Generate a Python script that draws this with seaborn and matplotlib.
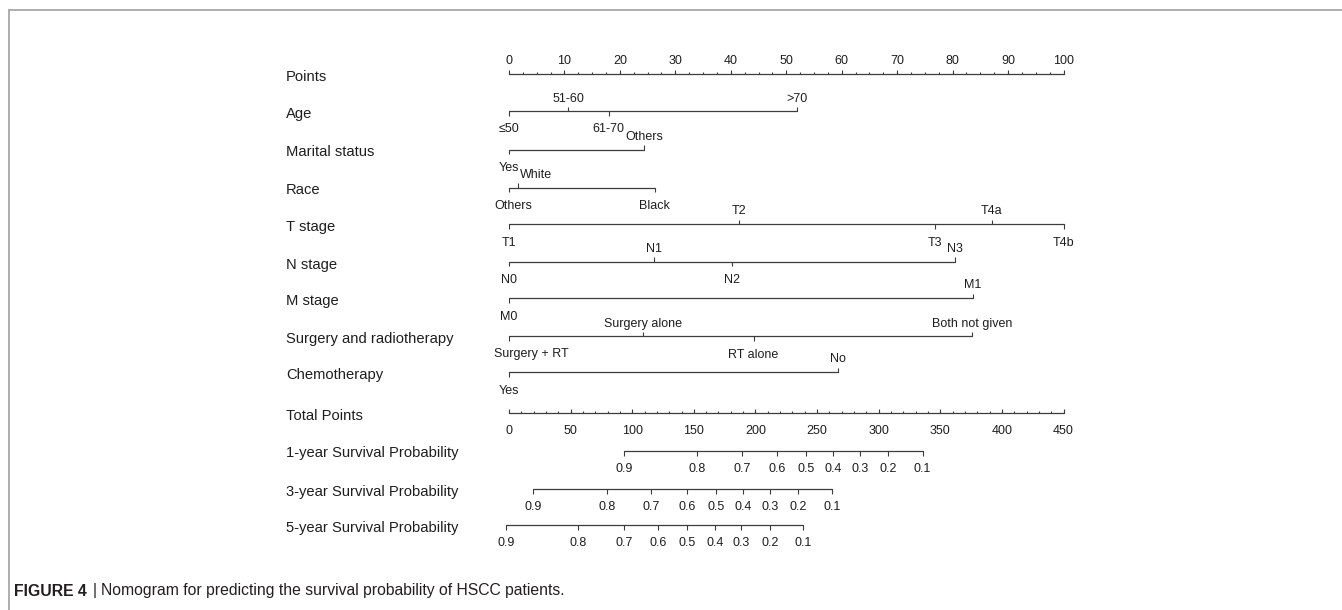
import numpy as np
import pandas as pd
import matplotlib.pyplot as plt
import seaborn as sns

# Row labels (left column)
row_names = ["Points", "Age", "Marital status", "Race", "T stage", "N stage",
             "M stage", "Surgery and radiotherapy", "Chemotherapy", "Total Points",
             "1-year Survival Probability", "3-year Survival Probability",
             "5-year Survival Probability"]

# Points (0-100 scale) of each level
age_levels = ["≤50", "51-60", "61-70", ">70"]
age_points = [0, 10.7, 18.0, 51.9]
marital_levels = ["Yes", "Others"]
marital_points = [0, 24.4]
race_levels = ["Others", "White", "Black"]
race_points = [0, 1.7, 26.3]
t_levels = ["T1", "T2", "T3", "T4a", "T4b"]
t_points = [0, 41.5, 76.8, 87.1, 100]
n_levels = ["N0", "N1", "N2", "N3"]
n_points = [0, 26.2, 40.3, 80.4]
m_levels = ["M0", "M1"]
m_points = [0, 83.6]
surg_levels = ["Surgery + RT", "Surgery alone", "RT alone", "Both not given"]
surg_points = [0, 24.1, 44.1, 83.5]
chemo_levels = ["Yes", "No"]
chemo_points = [0, 59.4]

# Total points at which each survival probability is reached
surv_probs = ["0.9", "0.8", "0.7", "0.6", "0.5", "0.4", "0.3", "0.2", "0.1"]
surv1_total = [93.6, 152.5, 189.0, 217.5, 241.0, 262.8, 284.8, 307.4, 335.6]
surv3_total = [19.8, 79.3, 115.6, 144.4, 168.0, 190.0, 211.7, 234.6, 262.2]
surv5_total = [-2.5, 56.4, 93.3, 121.2, 144.7, 167.3, 188.1, 211.7, 238.9]
total_max = 450

# ---- layout (pixel based) ----
x0_px = 509.0
px_per_pt = (1063.5 - 509.0) / 100
row_y = [74, 111, 149.5, 187.5, 224, 261.5, 298, 336, 372, 413, 450.5, 489, 525]

def px(x):
    return (x - x0_px) / px_per_pt

def tp(v):
    return np.asarray(v, dtype=float) * 100 / total_max

sns.set_theme(style="white")
plt.rcParams['font.family'] = ['Liberation Sans', 'DejaVu Sans']

line_c = "#3c3c3c"
txt_c = "#1e1e1e"
fs_row = 10.6
fs = 9.0

fig = plt.figure(figsize=(13.42, 6.10), dpi=100)
ax = fig.add_axes([0, 0, 1, 1])

variables = [(age_levels, age_points), (marital_levels, marital_points),
             (race_levels, race_points), (t_levels, t_points),
             (n_levels, n_points), (m_levels, m_points),
             (surg_levels, surg_points), (chemo_levels, chemo_points)]
surv_rows = [surv1_total, surv3_total, surv5_total]

# horizontal segments, drawn through seaborn
segs = [("Points", 0, row_y[0]), ("Points", 100, row_y[0])]
for i, (lv, pts) in enumerate(variables):
    segs += [(row_names[i + 1], min(pts), row_y[i + 1]),
             (row_names[i + 1], max(pts), row_y[i + 1])]
segs += [("Total Points", 0, row_y[9]), ("Total Points", 100, row_y[9])]
for k, s in enumerate(surv_rows):
    segs += [(row_names[10 + k], tp(min(s)), row_y[10 + k]),
             (row_names[10 + k], tp(max(s)), row_y[10 + k])]
seg_df = pd.DataFrame(segs, columns=["row", "x", "y"])
sns.lineplot(data=seg_df, x="x", y="y", units="row", estimator=None, sort=False,
             color=line_c, lw=0.9, ax=ax, legend=False)
ax.set_xlim(px(0), px(1342))
ax.set_ylim(610, 0)
ax.axis("off")

# row labels
for name, y in zip(row_names, row_y):
    ax.text(px(286), y + 3, name, ha="left", va="center", fontsize=fs_row, color=txt_c)

# Points axis
y = row_y[0]
minor = np.arange(0, 100.01, 2.5)
ax.vlines(minor, y - 2.5, y, color=line_c, lw=0.8)
major = np.arange(0, 101, 10)
ax.vlines(major, y - 4.5, y, color=line_c, lw=0.8)
for v in major:
    ax.text(v, y - 13, f"{v:d}", ha="center", va="center", fontsize=fs, color=txt_c)

# variable rows
level_texts = []
for i, (lv, pts) in enumerate(variables):
    y = row_y[i + 1]
    for j, (name, p) in enumerate(zip(lv, pts)):
        if j % 2 == 0:
            ax.vlines(p, y, y + 4.5, color=line_c, lw=0.8)
            t = ax.text(p, y + 18.5, name, ha="center", va="center", fontsize=fs, color=txt_c)
        else:
            ax.vlines(p, y - 4.5, y, color=line_c, lw=0.8)
            t = ax.text(p, y - 12.5, name, ha="center", va="center", fontsize=fs, color=txt_c)
        level_texts.append(t)

# Total points axis
y = row_y[9]
tmin = np.arange(0, total_max + 1, 10)
ax.vlines(tp(tmin), y - 2.5, y, color=line_c, lw=0.8)
tmaj = np.arange(0, total_max + 1, 50)
ax.vlines(tp(tmaj), y - 4.5, y, color=line_c, lw=0.8)
for v in tmaj:
    ax.text(tp(v), y + 18, f"{v:d}", ha="center", va="center", fontsize=fs, color=txt_c)

# survival probability axes
for k, s in enumerate(surv_rows):
    y = row_y[10 + k]
    ax.vlines(tp(s), y, y + 5, color=line_c, lw=0.8)
    for lab, v in zip(surv_probs, s):
        t = ax.text(tp(v), y + 18, lab, ha="center", va="center", fontsize=fs, color=txt_c)
        level_texts.append(t)

# keep labels inside the left margin and clear of each other, as R does
fig.canvas.draw()
r = fig.canvas.get_renderer()
placed = []
for t in level_texts:
    bb = t.get_window_extent(r)
    shift = max(0.0, 494 - bb.x0)
    for ob in placed:
        if bb.y0 < ob.y1 - 1 and bb.y1 > ob.y0 + 1 and bb.x0 + shift < ob.x1 and bb.x1 + shift > ob.x0:
            shift = max(shift, ob.x1 + 1 - bb.x0)
    if shift > 0:
        xx, yy = t.get_position()
        t.set_position((xx + shift / px_per_pt, yy))
        bb = t.get_window_extent(r)
    placed.append(bb)

# frame lines
ax.plot([px(9), px(1342)], [10, 10], color="#a8a8a8", lw=1.3, clip_on=False)
ax.plot([px(9), px(9)], [10, 610], color="#a8a8a8", lw=1.3, clip_on=False)

# caption
cap1 = ax.text(px(14), 591, "FIGURE 4", ha="left", va="center", fontsize=11.3,
               fontweight="bold", color="#231f20")
fig.canvas.draw()
bb = cap1.get_window_extent(fig.canvas.get_renderer())
ax.text(px(bb.x1 + 6), 590, "|", ha="left", va="center", fontsize=11.3, color="#231f20")
ax.text(px(bb.x1 + 14), 591, "Nomogram for predicting the survival probability of HSCC patients.",
        ha="left", va="center", fontsize=11.3, color="#231f20")

fig.savefig("out.png", dpi=100)
